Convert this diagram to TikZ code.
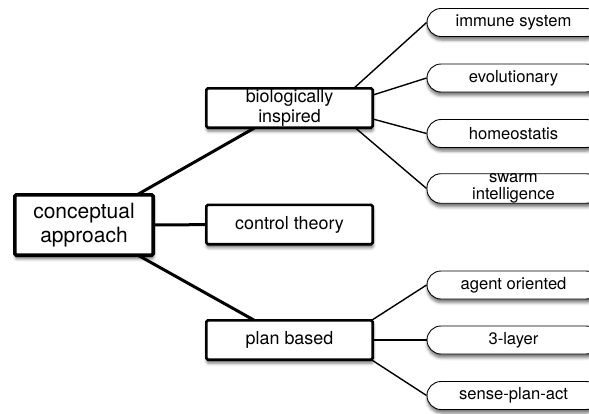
\documentclass[tikz,border=0pt]{standalone}
\usepackage{fontspec}
\setmainfont{TeX Gyre Heros}
\usetikzlibrary{shadows.blur,calc}
\pgfdeclarelayer{background}
\pgfsetlayers{background,main}
\begin{document}
\begin{tikzpicture}[x=1pt,y=-1pt,
  soft/.style={blur shadow={shadow xshift=0.5pt,shadow yshift=-3.5pt,
      shadow blur radius=3pt,shadow opacity=55}},
  rootbox/.style={draw,fill=white,line width=3.6pt,rounded corners=1.5pt,
      minimum width=138.4pt,minimum height=60.4pt,inner sep=0pt,align=center,
      font=\fontsize{21}{23.5}\selectfont,soft},
  midbox/.style={draw,fill=white,line width=2.7pt,rounded corners=1.5pt,
      minimum width=166.3pt,minimum height=39.3pt,inner sep=0pt,align=center,
      font=\fontsize{17.9}{19.5}\selectfont,soft},
  leaf/.style={draw,fill=white,line width=0.9pt,rounded corners=14pt,
      minimum width=173pt,minimum height=28pt,inner sep=0pt,align=center,
      font=\fontsize{16.6}{17}\selectfont,soft},
  trunk/.style={line width=3pt},
  twig/.style={line width=1.4pt}]
\useasboundingbox (0,0) rectangle (589,413);
\clip (0,0) rectangle (589,413);

% main branches
\node[rootbox] (root) at (84,225) {conceptual\\approach};
\node[midbox] (bio)  at (289.5,108)   {biologically\\inspired};
\node[midbox] (ctrl) at (289.5,224.5) {control theory};
\node[midbox] (plan) at (289.5,340)   {plan based};

% leaves of the biological branch
\node[leaf] (imm)   at (513.5,22.5)  {immune system};
\node[leaf] (evo)   at (513.5,78)    {evolutionary};
\node[leaf] (homeo) at (513.5,133.5) {homeostatis};
\node[leaf] (swarm) at (513.5,188.5) {swarm\\intelligence};

% leaves of the plan branch
\node[leaf] (agent) at (513.5,285)   {agent oriented};
\node[leaf] (three) at (513.5,340)   {3-layer};
\node[leaf] (spa)   at (513.5,395.5) {sense-plan-act};

% fan-out points of the thin connectors
\coordinate (bhub) at ($(bio.center)+(42.5,0)$);
\coordinate (phub) at ($(plan.center)+(51.5,0)$);

\begin{pgfonlayer}{background}
  \draw[trunk] (root.center) -- (bio.center);
  \draw[trunk] (root.center) -- (ctrl.center);
  \draw[trunk] (root.center) -- (plan.center);
  \draw[twig] (bhub) -- (imm.west);
  \draw[twig] (bhub) -- (evo.west);
  \draw[twig] (bhub) -- (homeo.west);
  \draw[twig] (bhub) -- (swarm.west);
  \draw[twig] (phub) -- (agent.west);
  \draw[twig] (phub) -- (three.west);
  \draw[twig] (phub) -- (spa.west);
\end{pgfonlayer}
\end{tikzpicture}
\end{document}
